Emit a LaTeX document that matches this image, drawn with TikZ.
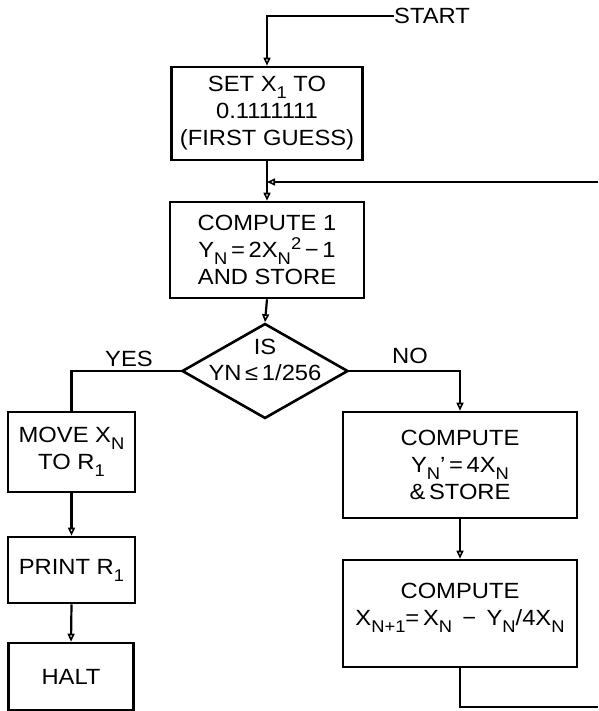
\documentclass[tikz,border=0pt]{standalone}
\usepackage{fontspec}
\setmainfont{Liberation Sans}[FakeStretch=1.08]
\usetikzlibrary{arrows.meta,shapes.geometric}
\newcommand\dn[1]{\raisebox{-0.6ex}{\fontsize{17}{17}\selectfont #1}}
\newcommand\upx[1]{\raisebox{0.7ex}{\fontsize{17}{17}\selectfont #1}}
\begin{document}
\begin{tikzpicture}[x=1pt,y=-1pt,
  box/.style={draw, line width=2.6pt, inner sep=0pt, align=center, font=\fontsize{22}{27}\selectfont},
  lbl/.style={inner sep=0pt, align=center, font=\fontsize{22}{26}\selectfont},
  conn/.style={line width=2.2pt},
  arr/.style={conn, -{Triangle[open,length=8pt,width=7pt,line width=1.6pt]}}]
\useasboundingbox (0,0) rectangle (598,711);
\fill[white] (0,0) rectangle (598,711);
% nodes
\node[lbl, anchor=west] (start) at (394,16) {START};
\node[box, minimum width=191pt, minimum height=93pt] (b1) at (267,113.5)
  {SET X\dn{1} TO\\0.1111111\\(FIRST GUESS)};
\node[box, minimum width=194pt, minimum height=96pt] (b2) at (267,250)
  {COMPUTE 1\\Y\dn{N}\,=\,2X\dn{N}\upx{2}\,−\,1\\AND STORE};
\node[draw, diamond, line width=2.6pt, inner sep=0pt, minimum width=166pt, minimum height=95pt] (dia) at (265,371) {};
\node[lbl] (diatext) at (265,360) {IS\\YN\,≤\,1/256};
\node[lbl] (yes) at (129,359) {YES};
\node[lbl] (no) at (410,356) {NO};
\node[box, minimum width=127pt, minimum height=80pt] (move) at (71.5,452)
  {MOVE X\dn{N}\\TO R\dn{1}};
\node[box, minimum width=127pt, minimum height=66pt] (print) at (71.5,570)
  {PRINT R\dn{1}};
\node[box, minimum width=125pt, minimum height=67pt] (halt) at (71,676.5)
  {HALT};
\node[box, minimum width=234pt, minimum height=106pt] (b3) at (460,465)
  {COMPUTE\\Y\dn{N}’\,=\,4X\dn{N}\\\&\,STORE};
\node[box, minimum width=234pt, minimum height=107pt, text depth=18pt] (b4) at (460,613.5)
  {COMPUTE\\X\dn{N+1}=\,X\dn{N} \,−\, Y\dn{N}/4X\dn{N}};
% coordinates
\coordinate (c0) at (267,16);
\coordinate (loopin) at (598,182);
\coordinate (j1) at (267,182);
\coordinate (loopout) at (598,707);
% connectors
\draw[arr] (start.west) -- (c0) -- (b1.north);
\draw[arr] (b1.south) -- (b2.north);
\draw[arr] (loopin) -- (j1);
\draw[arr] (b2.south) -- (dia.north);
\draw[conn] (dia.west) -| (move.north);
\draw[arr] (dia.east) -| (b3.north);
\draw[arr] (move.south) -- (print.north);
\draw[arr] (print.south) -- (halt.north);
\draw[arr] (b3.south) -- (b4.north);
\draw[conn] (b4.south) |- (loopout);
\end{tikzpicture}
\end{document}
